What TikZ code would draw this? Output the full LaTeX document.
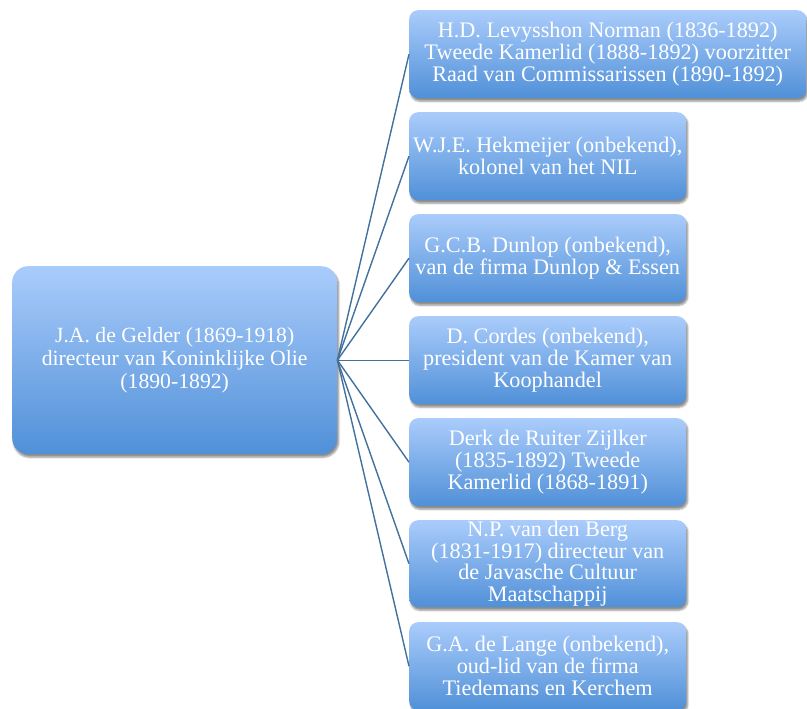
\documentclass[tikz,border=0pt]{standalone}
\usepackage{fontspec}
\setmainfont{Liberation Serif}
\usetikzlibrary{shadows.blur}
\definecolor{boxtop}{RGB}{170,204,251}
\definecolor{boxbot}{RGB}{80,144,216}
\definecolor{linkc}{RGB}{65,113,156}
\tikzset{
  bluebox/.style={rounded corners=9pt, top color=boxtop, bottom color=boxbot, draw=none,
    text=white, align=center, inner sep=0pt, anchor=north west,
    font=\fontsize{22.2}{22.2}\selectfont,
    blur shadow={shadow xshift=1.5pt, shadow yshift=-3pt, shadow blur steps=6, shadow opacity=45}},
  link/.style={draw=linkc, line width=1.4pt}
}
\begin{document}
\begin{tikzpicture}[x=1pt,y=-1pt]
\useasboundingbox (0,0) rectangle (807,709);
\node[bluebox, rounded corners=16pt, minimum width=325pt, minimum height=188pt,
  font=\fontsize{21.7}{22.6}\selectfont] (g) at (12,266)
  {J.A. de Gelder (1869-1918)\\directeur van Koninklijke Olie\\(1890-1892)};
\node[bluebox, minimum width=397pt, minimum height=88pt] (b1) at (409,10)
  {H.D. Levysshon Norman (1836-1892)\\Tweede Kamerlid (1888-1892) voorzitter\\Raad van Commissarissen (1890-1892)};
\node[bluebox, minimum width=277pt, minimum height=88pt] (b2) at (409,112)
  {W.J.E. Hekmeijer (onbekend),\\kolonel van het NIL};
\node[bluebox, minimum width=277pt, minimum height=88pt] (b3) at (409,214)
  {G.C.B. Dunlop (onbekend),\\van de firma Dunlop \& Essen};
\node[bluebox, minimum width=277pt, minimum height=88pt] (b4) at (409,316)
  {D. Cordes (onbekend),\\president van de Kamer van\\Koophandel};
\node[bluebox, minimum width=277pt, minimum height=88pt] (b5) at (409,418)
  {Derk de Ruiter Zijlker\\(1835-1892) Tweede\\Kamerlid (1868-1891)};
\node[bluebox, minimum width=277pt, minimum height=87pt,
  font=\fontsize{22.2}{21.6}\selectfont] (b6) at (409,520)
  {N.P. van den Berg\\(1831-1917) directeur van\\de Javasche Cultuur\\Maatschappij};
\node[bluebox, minimum width=277pt, minimum height=88pt] (b7) at (409,622)
  {G.A. de Lange (onbekend),\\oud-lid van de firma\\Tiedemans en Kerchem};
\foreach \b in {b1,b2,b3,b4,b5,b6,b7}
  \draw[link] (g.east) -- (\b.west);
\end{tikzpicture}
\end{document}
